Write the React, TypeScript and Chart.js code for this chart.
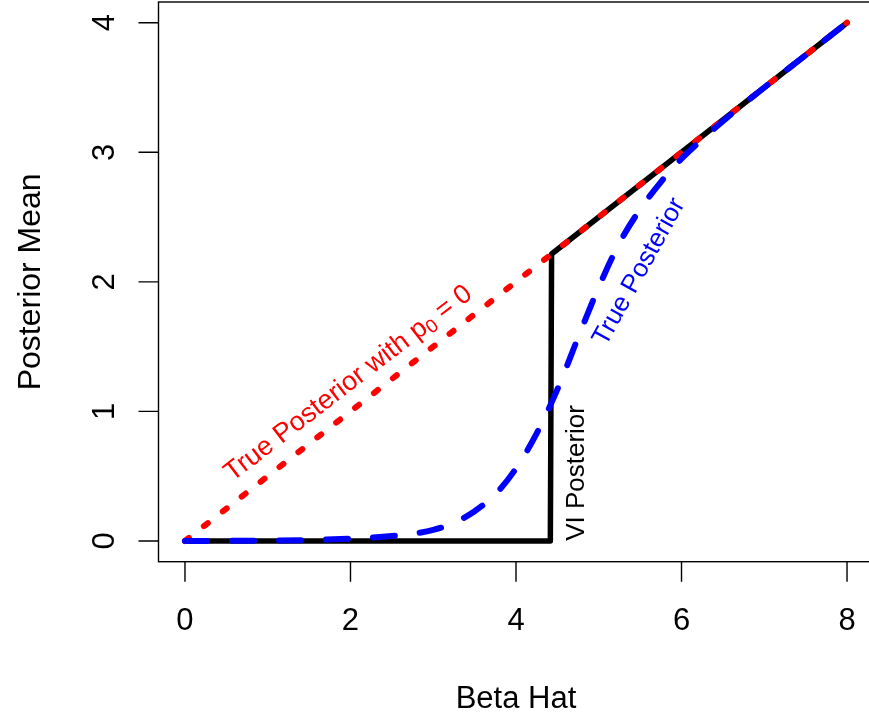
import React, { useEffect, useRef } from "react";
import { Chart, registerables } from "chart.js";

Chart.register(...registerables);

// ---- data ----
const xTicks = [0, 2, 4, 6, 8];
const yTicks = [0, 1, 2, 3, 4];

const trueX = [0, 0.5, 1, 1.5, 2, 2.5, 2.75, 3, 3.25, 3.5, 3.75, 4, 4.25, 4.5, 4.75, 5, 5.25, 5.5, 5.75, 6, 6.25, 6.5, 7, 7.5, 8];
const trueY = [0, 0.001, 0.003, 0.007, 0.018, 0.038, 0.055, 0.085, 0.14, 0.23, 0.36, 0.56, 0.83, 1.17, 1.57, 1.96, 2.3, 2.56, 2.77, 2.95, 3.1, 3.24, 3.5, 3.75, 4];

const p0X = [0, 8];
const p0Y = [0, 4];

const viX = [0, 4.415, 4.43, 8];
const viY = [0, 0, 2.215, 4];

const xTitle = "Beta Hat";
const yTitle = "Posterior Mean";

// annotation labels: [segments], data x, data y, angle (deg), color
const noteRed = [{ t: "True Posterior with p" }, { t: "0", sub: true }, { t: " = 0" }];
const noteBlue = [{ t: "True Posterior" }];
const noteBlack = [{ t: "VI Posterior" }];
const notePos = [
  { segs: noteRed, x: 2.03, y: 1.17, angle: 37.5, color: "#ff0000", size: 27 },
  { segs: noteBlue, x: 5.565, y: 2.05, angle: 61, color: "#0000ff", size: 26 },
  { segs: noteBlack, x: 4.82, y: 0.525, angle: 90, color: "#000000", size: 26 },
];

const FONT = '"Liberation Sans", Arial, Helvetica, sans-serif';

function toPts(xs: number[], ys: number[]) {
  return xs.map((x, i) => ({ x, y: ys[i] }));
}

function drawRich(ctx: CanvasRenderingContext2D, segs: any[], x: number, y: number, angle: number, color: string, size: number) {
  ctx.save();
  ctx.translate(x, y);
  ctx.rotate((-angle * Math.PI) / 180);
  ctx.fillStyle = color;
  ctx.textBaseline = "alphabetic";
  ctx.textAlign = "left";
  const subSize = size * 0.7;
  let total = 0;
  const widths = segs.map((s) => {
    ctx.font = `${s.sub ? subSize : size}px ${FONT}`;
    const w = ctx.measureText(s.t).width;
    total += w;
    return w;
  });
  let cx = -total / 2;
  segs.forEach((s, i) => {
    ctx.font = `${s.sub ? subSize : size}px ${FONT}`;
    ctx.fillText(s.t, cx, s.sub ? size * 0.15 : 0);
    cx += widths[i];
  });
  ctx.restore();
}

const axesPlugin = {
  id: "rAxes",
  afterDraw(chart: any) {
    const ctx: CanvasRenderingContext2D = chart.ctx;
    const { left, right, top, bottom } = chart.chartArea;
    const xs = chart.scales.x;
    const ys = chart.scales.y;
    ctx.save();
    ctx.strokeStyle = "#000";
    ctx.lineWidth = 1.4;
    ctx.strokeRect(left, top, right - left, bottom - top);
    const tickLen = 20;
    ctx.beginPath();
    xTicks.forEach((v) => {
      const px = xs.getPixelForValue(v);
      ctx.moveTo(px, bottom);
      ctx.lineTo(px, bottom + tickLen);
    });
    yTicks.forEach((v) => {
      const py = ys.getPixelForValue(v);
      ctx.moveTo(left, py);
      ctx.lineTo(left - tickLen, py);
    });
    ctx.stroke();

    ctx.fillStyle = "#000";
    ctx.font = `31px ${FONT}`;
    ctx.textAlign = "center";
    ctx.textBaseline = "alphabetic";
    xTicks.forEach((v) => {
      ctx.fillText(String(v), xs.getPixelForValue(v), bottom + 68);
    });
    yTicks.forEach((v) => {
      ctx.save();
      ctx.translate(left - 45, ys.getPixelForValue(v));
      ctx.rotate(-Math.PI / 2);
      ctx.fillText(String(v), 0, 0);
      ctx.restore();
    });
    // axis titles
    ctx.fillText(xTitle, (left + right) / 2, bottom + 146);
    ctx.save();
    ctx.font = `32px ${FONT}`;
    ctx.translate(left - 119, (top + bottom) / 2);
    ctx.rotate(-Math.PI / 2);
    ctx.fillText(yTitle, 0, 0);
    ctx.restore();

    notePos.forEach((n) => {
      drawRich(ctx, n.segs, xs.getPixelForValue(n.x), ys.getPixelForValue(n.y), n.angle, n.color, n.size);
    });
    ctx.restore();
  },
};

export default function App() {
  const ref = useRef<HTMLCanvasElement | null>(null);
  useEffect(() => {
    if (!ref.current) return;
    const chart = new Chart(ref.current, {
      type: "line",
      data: {
        datasets: [
          {
            label: "True Posterior",
            data: toPts(trueX, trueY),
            borderColor: "#0000ff",
            borderWidth: 6,
            borderDash: [22, 25],
            borderCapStyle: "round",
            borderJoinStyle: "round",
            cubicInterpolationMode: "monotone",
            pointRadius: 0,
            fill: false,
          },
          {
            label: "True Posterior with p0 = 0",
            data: toPts(p0X, p0Y),
            borderColor: "#ff0000",
            borderWidth: 6,
            borderDash: [5, 19],
            borderCapStyle: "round",
            borderJoinStyle: "round",
            pointRadius: 0,
            fill: false,
          },
          {
            label: "VI Posterior",
            data: toPts(viX, viY),
            borderColor: "#000000",
            borderWidth: 5.5,
            borderCapStyle: "round",
            borderJoinStyle: "round",
            pointRadius: 0,
            tension: 0,
            fill: false,
          },
        ],
      } as any,
      options: {
        animation: false,
        responsive: false,
        maintainAspectRatio: false,
        layout: { padding: { left: 158.5, top: 2, right: 6.5, bottom: 154.3 } },
        plugins: { legend: { display: false }, tooltip: { enabled: false } },
        scales: {
          x: { type: "linear", min: -0.32, max: 8.32, display: false },
          y: { type: "linear", min: -0.16, max: 4.16, display: false },
        },
      } as any,
      plugins: [axesPlugin],
    });
    return () => chart.destroy();
  }, []);
  return (
    <div style={{ position: "fixed", left: 0, top: 0, width: 869, height: 716, overflow: "hidden", background: "#fff" }}>
      <canvas ref={ref} width={880} height={716} style={{ display: "block" }} />
    </div>
  );
}
